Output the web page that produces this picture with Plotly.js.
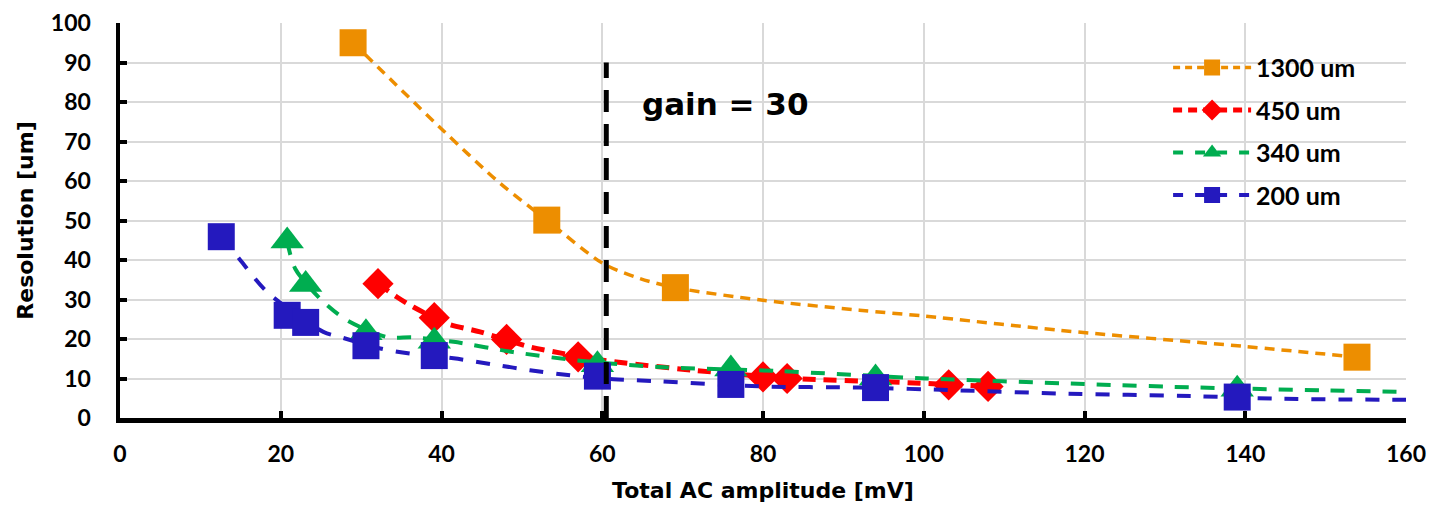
<!DOCTYPE html>
<html>
<head>
<meta charset="utf-8">
<script src="https://cdn.plot.ly/plotly-3.0.1.min.js"></script>
<style>html,body{margin:0;padding:0;background:#fff;}#chart{width:1435px;height:508px;}</style>
</head>
<body>
<div id="chart"></div>
<script>
// ---- measured points ----
const amp1300 = [29.0, 53.1, 69.1, 153.9];
const res1300 = [95.0, 50.1, 33.0, 15.4];
const amp450 = [32.1, 39.1, 48.1, 57.0, 80.0, 83.0, 103.1, 108.0];
const res450 = [34.0, 25.4, 19.9, 15.5, 10.4, 10.0, 8.4, 8.0];
const amp340 = [20.8, 23.1, 30.6, 39.1, 59.4, 76.0, 94.0, 139.0];
const res340 = [44.8, 33.8, 21.6, 19.4, 13.5, 12.4, 10.1, 7.3];
const amp200 = [12.6, 20.8, 23.1, 30.6, 39.1, 59.4, 76.0, 94.0, 139.0];
const res200 = [45.9, 26.0, 24.2, 18.3, 15.8, 10.6, 8.5, 7.7, 5.3];

// ---- trend curves ----
const fit1300X = [29.0, 40.2, 47.3, 53.1, 60.1, 64.7, 69.1, 80.0, 92.0, 100.1, 116.9, 140.0, 153.9];
const fit1300Y = [95.0, 72.8, 59.4, 50.1, 39.1, 35.3, 33.0, 29.8, 27.3, 25.8, 22.2, 18.1, 15.4];
const fit450X = [32.1, 34.4, 36.5, 40.7, 44.8, 51.0, 55.2, 60.1, 71.3, 83.7, 96.2, 108.0];
const fit450Y = [34.0, 30.7, 28.1, 23.9, 21.8, 18.0, 16.3, 14.6, 12.1, 10.0, 9.1, 8.0];
const fit340X = [20.8, 21.8, 25.1, 28.2, 33.2, 36.5, 41.5, 48.9, 57.2, 67.2, 81.7, 100.3, 120.0, 134.3, 150.0, 160.0];
const fit340Y = [44.8, 37.8, 29.8, 24.8, 20.5, 20.4, 19.3, 16.7, 14.5, 12.9, 11.9, 10.0, 8.6, 7.7, 7.0, 6.6];
const fit200X = [12.6, 15.0, 18.3, 25.3, 27.4, 32.4, 36.1, 41.5, 46.9, 51.0, 56.0, 61.4, 67.2, 79.6, 92.0, 104.4, 116.9, 134.3, 143.6, 160.0];
const fit200Y = [45.9, 39.9, 31.9, 21.8, 20.5, 17.6, 16.3, 15.1, 13.4, 12.1, 10.8, 9.8, 9.3, 8.0, 7.7, 7.0, 6.2, 5.5, 4.9, 4.6];

// ---- gain marker line ----
const gainLineX = [60.5, 60.5];
const gainLineY = [0, 90];
const gainLabel = 'gain = 30';
const gainLabelPos = [64.7, 79.4];

const seriesNames = ['1300 um', '450 um', '340 um', '200 um'];
const xTicks = [0, 20, 40, 60, 80, 100, 120, 140, 160];
const yTicks = [0, 10, 20, 30, 40, 50, 60, 70, 80, 90, 100];

const C_OR = '#ED8E00', C_RED = '#FF0000', C_GR = '#00AD50', C_BL = '#2419BE';
const TXT = 'DejaVu Sans', NUM = 'Lato';

function curve(x, y, color, width, dash) {
  return {x: x, y: y, mode: 'lines', type: 'scatter', showlegend: false, hoverinfo: 'skip',
    line: {color: color, width: width, dash: dash, shape: 'spline', smoothing: 0.8}};
}
function pts(x, y, color, symbol, size) {
  return {x: x, y: y, mode: 'markers', type: 'scatter', showlegend: false,
    marker: {color: color, symbol: symbol, size: size, line: {width: 0}}};
}
function leg(name, color, width, dash, symbol, size, g) {
  return {x: [null], y: [null], mode: 'lines+markers', type: 'scatter', name: name, legendgroup: g,
    line: {color: color, width: width, dash: dash}, marker: {color: color, symbol: symbol, size: size}};
}

const data = [
  curve(fit1300X, fit1300Y, C_OR, 3.5, '10px,7px'),
  pts(amp1300, res1300, C_OR, 'square', 27),
  curve(fit450X, fit450Y, C_RED, 5, '13px,8px'),
  pts(amp450, res450, C_RED, 'diamond', 24),
  curve(fit340X, fit340Y, C_GR, 4, '14px,12px'),
  pts(amp340, res340, C_GR, 'triangle-up', 29),
  curve(fit200X, fit200Y, C_BL, 4, '14px,13px'),
  pts(amp200, res200, C_BL, 'square', 27),
  {x: gainLineX, y: gainLineY, mode: 'lines', type: 'scatter', showlegend: false, hoverinfo: 'skip',
    line: {color: '#000', width: 5, dash: '22px,12px'}},
  leg(seriesNames[0], C_OR, 3.5, '7px,5px', 'square', 16, 'a'),
  leg(seriesNames[1], C_RED, 5, '9px,6px', 'diamond', 16, 'b'),
  leg(seriesNames[2], C_GR, 4, '10px,12px', 'triangle-up', 16, 'c'),
  leg(seriesNames[3], C_BL, 4, '10px,12px', 'square', 16, 'd')
];

const axisCommon = {
  showline: true, linecolor: '#000', linewidth: 4.5,
  ticks: 'inside', ticklen: 7, tickwidth: 4, tickcolor: '#000',
  showgrid: true, gridcolor: '#d9d9d9', gridwidth: 2,
  zeroline: false, tickfont: {family: NUM, size: 23, color: '#000', weight: 'bold'}
};

const layout = {
  width: 1435, height: 508,
  margin: {l: 120, r: 29, t: 23, b: 90},
  paper_bgcolor: '#fff', plot_bgcolor: '#fff',
  xaxis: Object.assign({}, axisCommon, {
    range: [0, 160], tickvals: xTicks, ticktext: xTicks.map(String), ticklabelstandoff: 12,
    title: {text: 'Total AC amplitude [mV]', standoff: 18, font: {family: TXT, size: 22, color: '#000', weight: 'bold'}}
  }),
  yaxis: Object.assign({}, axisCommon, {
    range: [0, 100], tickvals: yTicks, ticktext: yTicks.map(String), ticklabelstandoff: 20,
    title: {text: 'Resolution [um]', standoff: 12, font: {family: TXT, size: 22, color: '#000', weight: 'bold'}}
  }),
  legend: {x: 0.815, y: 0.945, xanchor: 'left', yanchor: 'top', bgcolor: 'rgba(0,0,0,0)',
    itemwidth: 78, tracegroupgap: 7, font: {family: NUM, size: 25, color: '#000', weight: 'bold'}},
  annotations: [{x: gainLabelPos[0], y: gainLabelPos[1], xref: 'x', yref: 'y', text: gainLabel,
    showarrow: false, xanchor: 'left', yanchor: 'middle',
    font: {family: TXT, size: 31, color: '#000', weight: 'bold'}}],
  showlegend: true
};

Plotly.newPlot('chart', data, layout, {displayModeBar: false, staticPlot: true});
</script>
</body>
</html>
